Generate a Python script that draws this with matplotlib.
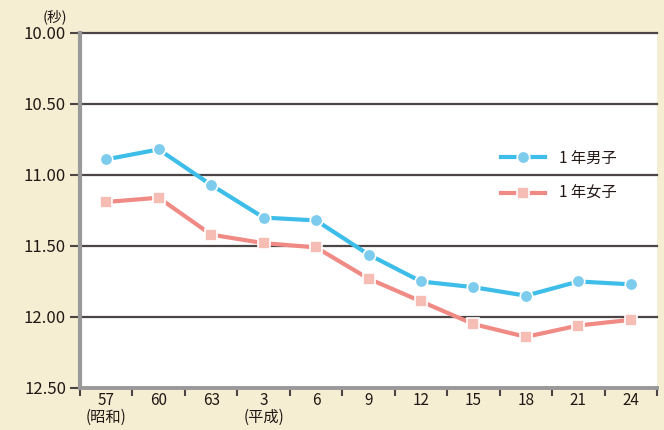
import numpy as np
import matplotlib
matplotlib.use("Agg")
import matplotlib.pyplot as plt

plt.rcParams['font.family'] = ['Noto Sans CJK JP', 'DejaVu Sans']

years = ['57\n(昭和)', '60', '63', '3\n(平成)', '6', '9', '12', '15', '18', '21', '24']
boys = [10.89, 10.82, 11.07, 11.30, 11.32, 11.56, 11.75, 11.79, 11.85, 11.75, 11.77]
girls = [11.19, 11.16, 11.42, 11.48, 11.51, 11.73, 11.89, 12.05, 12.14, 12.06, 12.02]
yticks = [10.00, 10.50, 11.00, 11.50, 12.00, 12.50]

bg = '#f5eed3'
fig = plt.figure(figsize=(6.64, 4.30), dpi=100, facecolor=bg)
ax = fig.add_axes([0.1205, 0.0977, 0.869, 0.8256])
ax.set_facecolor('white')

x = np.arange(len(years))
ax.plot(x, boys, color='#3dbde8', lw=3, marker='o', ms=9,
        mfc='#7dccee', mec='white', mew=1.2, label='1 年男子', zorder=4)
ax.plot(x, girls, color='#f08a85', lw=3, marker='s', ms=8,
        mfc='#f6bdb5', mec='white', mew=1.2, label='1 年女子', zorder=3)

ax.set_ylim(12.5, 10.0)
ax.set_xlim(-0.5, len(years) - 0.5)
ax.set_yticks(yticks)
ax.set_yticklabels([f'{v:.2f}' for v in yticks], fontsize=12, color='#231815')
ax.yaxis.grid(True, color='#4b4546', lw=1.6)
for gl in ax.get_ygridlines():
    gl.set_clip_on(False)
ax.set_axisbelow(True)

ax.set_xticks(x)
ax.set_xticklabels(years, fontsize=11, color='#231815', linespacing=1.0, va='top')
ax.set_xticks(np.arange(-0.5, len(years), 1), minor=True)
ax.tick_params(axis='x', which='major', length=0, pad=3)
ax.tick_params(axis='x', which='minor', length=6, width=1.5, color='#4b4546', direction='out')
ax.tick_params(axis='y', length=7, width=1.5, color='#4b4546', pad=3)

for s in ['top', 'right']:
    ax.spines[s].set_visible(False)
ax.spines['left'].set_color('#999999')
ax.spines['left'].set_linewidth(3)
ax.spines['bottom'].set_color('#999999')
ax.spines['bottom'].set_linewidth(2.8)

fig.text(0.083, 0.96, '(秒)', fontsize=10.5, color='#231815', ha='center', va='center')

ax.legend(loc='upper left', bbox_to_anchor=(0.705, 0.71), frameon=False,
          fontsize=11, handlelength=2.9, labelspacing=1.2, handletextpad=0.9,
          labelcolor='#231815')

fig.savefig('out.png', dpi=100, facecolor=bg)
